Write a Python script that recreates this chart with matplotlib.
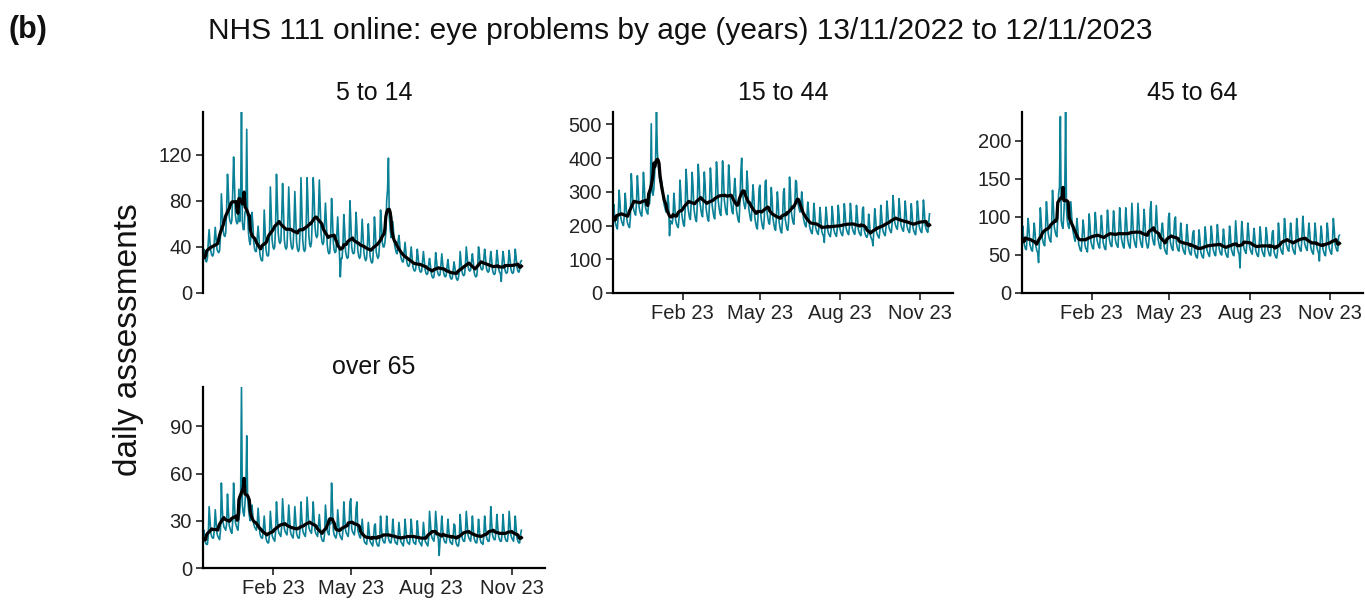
import matplotlib
matplotlib.use("Agg")
import matplotlib.pyplot as plt
import numpy as np
import pandas as pd

plt.rcParams['font.family'] = ['Liberation Sans', 'DejaVu Sans']

start_date = "2022-11-13"
end_date = "2023-11-12"
title = "NHS 111 online: eye problems by age (years) 13/11/2022 to 12/11/2023"
panel_label = "(b)"
y_label = "daily assessments"
panel_titles = ["5 to 14", "15 to 44", "45 to 64", "over 65"]
tick_dates = ["2023-02-01", "2023-05-01", "2023-08-01", "2023-11-01"]
tick_labels = ["Feb 23", "May 23", "Aug 23", "Nov 23"]
y_ticks = [[0, 40, 80, 120], [0, 100, 200, 300, 400, 500],
           [0, 50, 100, 150, 200], [0, 30, 60, 90]]

# daily assessments, one row per week (Sun..Sat)
age_5_14 = [
    29, 38, 32, 28, 27, 30, 44,
    55, 44, 36, 33, 32, 34, 46,
    57, 48, 38, 36, 35, 37, 50,
    86, 70, 55, 50, 49, 52, 72,
    103, 88, 66, 62, 60, 63, 88,
    118, 95, 68, 62, 60, 62, 90,
    62, 80, 157, 62, 55, 55, 70,
    72, 142, 68, 52, 45, 42, 52,
    70, 60, 44, 38, 36, 36, 48,
    58, 48, 34, 30, 28, 28, 42,
    72, 56, 38, 33, 32, 33, 50,
    92, 70, 46, 40, 38, 40, 58,
    103, 80, 52, 45, 43, 45, 66,
    95, 72, 46, 40, 38, 40, 60,
    92, 70, 47, 40, 38, 40, 58,
    88, 66, 44, 38, 36, 38, 54,
    100, 72, 46, 38, 36, 38, 60,
    100, 78, 50, 42, 40, 44, 66,
    100, 85, 58, 50, 48, 50, 70,
    98, 76, 52, 44, 42, 44, 62,
    78, 62, 42, 36, 34, 35, 50,
    82, 65, 44, 37, 35, 36, 52,
    66, 50, 34, 14, 30, 30, 42,
    68, 55, 36, 32, 30, 31, 44,
    80, 62, 40, 35, 34, 35, 48,
    70, 55, 37, 32, 30, 32, 46,
    64, 50, 35, 30, 28, 30, 42,
    60, 47, 32, 28, 26, 27, 40,
    66, 54, 36, 32, 30, 32, 44,
    72, 60, 44, 40, 40, 44, 52,
    80, 90, 117, 66, 55, 48, 52,
    62, 52, 42, 38, 35, 34, 45,
    50, 42, 32, 29, 27, 27, 36,
    44, 36, 27, 24, 23, 24, 31,
    40, 32, 23, 20, 19, 20, 27,
    38, 31, 22, 19, 18, 19, 27,
    36, 28, 20, 17, 16, 17, 25,
    30, 24, 17, 14, 13, 14, 21,
    35, 28, 19, 16, 15, 16, 24,
    34, 26, 18, 15, 14, 15, 23,
    29, 22, 16, 13, 12, 13, 20,
    27, 22, 15, 12, 11, 13, 19,
    36, 28, 19, 16, 15, 16, 24,
    40, 32, 23, 20, 19, 20, 28,
    34, 27, 18, 15, 14, 15, 23,
    40, 34, 24, 21, 20, 21, 29,
    38, 31, 22, 19, 18, 19, 27,
    36, 29, 20, 17, 16, 17, 25,
    37, 30, 21, 18, 17, 10, 26,
    36, 30, 21, 18, 17, 18, 26,
    37, 30, 21, 18, 17, 18, 26,
    38, 31, 22, 19, 18, 20, 27,
    28]

age_15_44 = [
    225, 262, 218, 205, 196, 190, 228,
    305, 270, 223, 212, 204, 200, 230,
    296, 262, 217, 205, 198, 194, 223,
    354, 313, 258, 245, 237, 231, 267,
    348, 308, 255, 241, 233, 228, 263,
    358, 316, 261, 248, 239, 234, 270,
    265, 300, 502, 300, 290, 310, 360,
    400, 537, 420, 380, 350, 330, 340,
    330, 310, 280, 260, 250, 240, 250,
    290, 265, 170, 215, 208, 205, 225,
    296, 262, 217, 205, 198, 194, 224,
    335, 298, 236, 218, 203, 198, 248,
    367, 326, 258, 239, 223, 218, 272,
    358, 318, 252, 233, 217, 212, 265,
    382, 340, 269, 249, 232, 226, 283,
    359, 319, 253, 234, 218, 213, 266,
    371, 330, 261, 242, 226, 220, 275,
    389, 346, 274, 253, 236, 230, 288,
    392, 348, 276, 255, 238, 232, 290,
    380, 340, 280, 260, 240, 235, 295,
    340, 305, 245, 230, 215, 210, 275,
    360, 400, 300, 275, 260, 250, 270,
    362, 322, 255, 236, 220, 214, 268,
    321, 286, 226, 209, 195, 190, 238,
    310, 320, 230, 210, 196, 190, 224,
    330, 335, 245, 224, 209, 204, 238,
    313, 278, 220, 204, 190, 186, 232,
    300, 266, 211, 195, 182, 178, 222,
    300, 310, 220, 204, 190, 186, 214,
    344, 306, 242, 224, 209, 204, 255,
    334, 330, 275, 262, 250, 240, 255,
    300, 270, 222, 210, 200, 196, 226,
    270, 240, 198, 188, 180, 176, 204,
    266, 236, 195, 185, 178, 174, 201,
    254, 224, 185, 175, 170, 150, 207,
    255, 225, 186, 176, 171, 167, 192,
    257, 228, 188, 178, 172, 168, 194,
    260, 230, 190, 180, 174, 170, 196,
    265, 235, 194, 184, 177, 173, 200,
    266, 236, 195, 185, 178, 174, 201,
    260, 230, 190, 180, 174, 170, 196,
    250, 255, 185, 175, 168, 165, 174,
    234, 207, 171, 162, 157, 140, 189,
    250, 221, 182, 173, 167, 163, 188,
    260, 230, 190, 180, 174, 170, 196,
    273, 242, 200, 189, 183, 179, 206,
    289, 255, 211, 200, 193, 189, 218,
    280, 247, 204, 194, 187, 183, 211,
    273, 242, 200, 189, 183, 179, 206,
    265, 235, 194, 184, 177, 173, 200,
    273, 242, 200, 189, 183, 179, 206,
    276, 244, 201, 191, 184, 180, 208,
    235]

age_45_64 = [
    72, 88, 68, 62, 58, 57, 76,
    98, 84, 64, 60, 56, 55, 74,
    92, 79, 61, 56, 53, 40, 69,
    112, 96, 74, 68, 64, 62, 84,
    120, 103, 79, 73, 69, 67, 90,
    135, 114, 87, 81, 76, 74, 100,
    130, 140, 232, 95, 88, 85, 105,
    130, 238, 110, 95, 88, 85, 100,
    120, 100, 85, 78, 72, 68, 80,
    98, 84, 64, 60, 56, 55, 74,
    96, 85, 65, 59, 57, 54, 73,
    104, 89, 68, 63, 59, 58, 78,
    106, 91, 70, 65, 61, 59, 80,
    102, 88, 67, 62, 58, 57, 77,
    109, 94, 72, 66, 62, 61, 82,
    108, 92, 71, 65, 62, 60, 81,
    112, 94, 72, 66, 61, 59, 82,
    112, 94, 72, 65, 61, 59, 83,
    118, 96, 73, 67, 62, 60, 84,
    118, 96, 73, 67, 62, 60, 84,
    110, 92, 70, 64, 59, 62, 75,
    110, 120, 78, 70, 65, 63, 89,
    115, 94, 71, 65, 60, 58, 83,
    92, 79, 61, 56, 53, 51, 69,
    100, 105, 68, 62, 58, 56, 76,
    96, 100, 66, 60, 56, 55, 71,
    92, 79, 61, 56, 53, 51, 69,
    90, 77, 59, 54, 51, 50, 67,
    80, 82, 55, 50, 47, 46, 60,
    83, 71, 54, 50, 47, 46, 62,
    87, 74, 57, 53, 50, 48, 65,
    88, 76, 58, 54, 50, 49, 66,
    90, 77, 59, 54, 51, 50, 67,
    84, 72, 55, 51, 48, 47, 63,
    88, 76, 58, 54, 50, 49, 66,
    95, 77, 59, 54, 51, 33, 67,
    94, 80, 62, 57, 54, 52, 70,
    92, 79, 61, 56, 53, 51, 69,
    85, 73, 56, 52, 49, 48, 64,
    87, 74, 57, 53, 50, 48, 65,
    86, 75, 57, 53, 49, 49, 65,
    80, 82, 54, 50, 47, 46, 54,
    92, 79, 61, 56, 53, 51, 69,
    98, 84, 64, 60, 56, 55, 74,
    92, 79, 61, 56, 53, 51, 69,
    98, 84, 64, 60, 56, 55, 74,
    101, 86, 66, 61, 58, 56, 76,
    92, 79, 61, 56, 53, 51, 69,
    92, 79, 61, 56, 53, 42, 69,
    88, 76, 58, 54, 50, 49, 66,
    92, 79, 61, 56, 53, 51, 69,
    98, 84, 64, 60, 56, 55, 74,
    76]

age_over_65 = [
    19, 24, 18, 16, 15, 15, 20,
    39, 30, 22, 20, 19, 19, 25,
    37, 29, 22, 20, 19, 18, 24,
    54, 38, 29, 26, 25, 24, 28,
    47, 36, 27, 25, 23, 22, 30,
    54, 40, 29, 27, 25, 24, 32,
    35, 45, 115, 40, 35, 33, 42,
    50, 84, 45, 38, 33, 30, 32,
    40, 33, 28, 26, 25, 24, 28,
    38, 30, 22, 20, 19, 19, 25,
    33, 25, 19, 17, 16, 16, 21,
    36, 28, 21, 19, 18, 17, 23,
    42, 32, 24, 22, 21, 20, 27,
    44, 34, 25, 23, 22, 21, 28,
    40, 31, 23, 21, 20, 19, 26,
    39, 30, 22, 20, 19, 19, 25,
    42, 32, 24, 22, 21, 20, 27,
    45, 35, 26, 24, 23, 22, 29,
    42, 32, 24, 22, 21, 20, 27,
    34, 26, 20, 18, 17, 17, 22,
    40, 32, 24, 22, 21, 30, 28,
    54, 40, 24, 21, 20, 19, 22,
    37, 29, 22, 20, 19, 18, 24,
    42, 32, 24, 22, 21, 20, 27,
    42, 44, 25, 23, 22, 21, 26,
    38, 42, 24, 22, 20, 19, 24,
    31, 24, 18, 16, 16, 15, 20,
    29, 23, 17, 16, 15, 14, 19,
    27, 28, 17, 15, 14, 14, 18,
    33, 25, 19, 17, 16, 16, 21,
    33, 25, 19, 17, 16, 16, 21,
    31, 24, 18, 16, 16, 15, 20,
    29, 23, 17, 16, 15, 14, 19,
    31, 24, 18, 16, 16, 15, 20,
    31, 24, 18, 16, 16, 15, 20,
    30, 23, 17, 16, 15, 14, 19,
    29, 23, 17, 16, 15, 14, 19,
    36, 28, 21, 19, 18, 17, 23,
    36, 28, 21, 19, 8, 17, 23,
    33, 25, 19, 17, 16, 16, 21,
    31, 24, 18, 16, 16, 15, 20,
    28, 27, 17, 15, 14, 14, 18,
    34, 26, 20, 18, 17, 17, 22,
    36, 28, 21, 19, 18, 17, 23,
    33, 25, 19, 17, 16, 16, 21,
    31, 24, 18, 16, 16, 15, 20,
    33, 26, 20, 18, 17, 17, 22,
    39, 29, 21, 19, 18, 18, 24,
    34, 26, 20, 18, 17, 17, 22,
    34, 26, 20, 18, 17, 17, 22,
    36, 28, 21, 19, 18, 17, 23,
    33, 25, 19, 17, 16, 16, 21,
    24]

series = [age_5_14, age_15_44, age_45_64, age_over_65]
dates = pd.date_range(start_date, end_date, freq="D")

teal = "#0A8196"
W, H = 1365, 601
fig = plt.figure(figsize=(W / 100, H / 100), dpi=100)

# panel boxes in pixels: left, top, right, bottom
boxes = [(203, 112, 545, 293), (613, 112, 953, 293),
         (1022, 112, 1363, 293), (203, 387, 545, 568)]
show_x = [False, True, True, True]
xmin = pd.Timestamp(start_date)
xmax = pd.Timestamp("2023-12-09")

for i, vals in enumerate(series):
    l, t, r, b = boxes[i]
    ax = fig.add_axes([l / W, 1 - b / H, (r - l) / W, (b - t) / H])
    s = pd.Series(vals, index=dates)
    smooth = s.rolling(7, center=True, min_periods=1).mean()
    ax.plot(s.index, s.values, color=teal, lw=1.2, zorder=2)
    ax.plot(smooth.index, smooth.values, color="black", lw=2.3, zorder=3)
    ax.set_xlim(xmin, xmax)
    ax.set_ylim(0, max(vals))
    ax.set_yticks(y_ticks[i])
    ax.spines["top"].set_visible(False)
    ax.spines["right"].set_visible(False)
    ax.spines["left"].set_linewidth(1.6)
    ax.spines["bottom"].set_linewidth(1.6)
    ax.tick_params(axis="both", labelsize=14.5, length=5, width=1.3,
                   color="#333333", labelcolor="#222222", pad=3)
    if show_x[i]:
        ax.set_xticks([pd.Timestamp(d) for d in tick_dates])
        ax.set_xticklabels(tick_labels)
    else:
        ax.spines["bottom"].set_visible(False)
        ax.set_xticks([])
    ax.set_title(panel_titles[i], fontsize=18, pad=9, color="#111111")

fig.text(680 / W, 1 - 31 / H, title, ha="center", va="center", fontsize=21.5,
         color="#111111")
fig.text(9 / W, 1 - 30 / H, panel_label, ha="left", va="center", fontsize=22,
         fontweight="bold", color="#111111")
fig.text(128 / W, 1 - 340 / H, y_label, ha="center", va="center",
         rotation=90, fontsize=24, color="#111111")

fig.savefig("out.png", dpi=100)
